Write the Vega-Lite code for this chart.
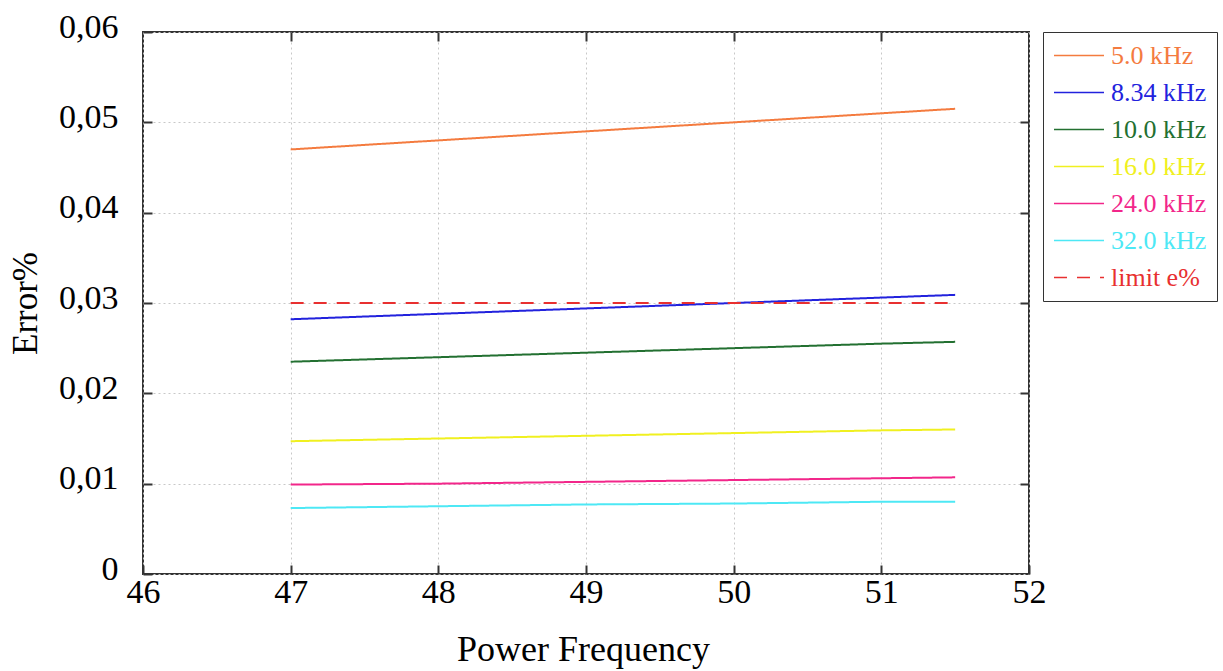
{
  "$schema": "https://vega.github.io/schema/vega-lite/v6.json",
  "width": 886,
  "height": 542,
  "autosize": {"type": "none"},
  "padding": {"left": 143, "top": 32, "right": 194, "bottom": 97},
  "background": "white",
  "config": {
    "view": {"stroke": "#333333", "strokeWidth": 2},
    "font": "Liberation Serif",
    "axis": {
      "labelFont": "Liberation Serif",
      "titleFont": "Liberation Serif",
      "labelColor": "#000000",
      "titleColor": "#000000",
      "labelFontSize": 34,
      "titleFontSize": 35,
      "titleFontWeight": "normal",
      "labelFlush": false,
      "labelOverlap": false,
      "domain": false,
      "tickColor": "#333333",
      "tickWidth": 2,
      "tickSize": -9,
      "gridColor": "#c8c8c8",
      "gridDash": [2, 3],
      "gridWidth": 1
    },
    "legend": {
      "title": null,
      "orient": "none",
      "legendX": 900,
      "legendY": 0,
      "strokeColor": "#333333",
      "padding": 10,
      "symbolSize": 625,
      "symbolStrokeWidth": 1.5,
      "symbolType": "M-1,0H3",
      "labelFont": "Liberation Serif",
      "labelFontSize": 26,
      "labelOffset": 31,
      "rowPadding": 10,
      "labelLimit": 300
    }
  },
  "data": {
    "values": [
      {"f": 47, "e": 0.0470, "series": "5.0 kHz"},
      {"f": 48, "e": 0.0480, "series": "5.0 kHz"},
      {"f": 49, "e": 0.0490, "series": "5.0 kHz"},
      {"f": 50, "e": 0.0500, "series": "5.0 kHz"},
      {"f": 51, "e": 0.0510, "series": "5.0 kHz"},
      {"f": 51.5, "e": 0.0515, "series": "5.0 kHz"},
      {"f": 47, "e": 0.0282, "series": "8.34 kHz"},
      {"f": 48, "e": 0.0288, "series": "8.34 kHz"},
      {"f": 49, "e": 0.0294, "series": "8.34 kHz"},
      {"f": 50, "e": 0.0300, "series": "8.34 kHz"},
      {"f": 51, "e": 0.0306, "series": "8.34 kHz"},
      {"f": 51.5, "e": 0.0309, "series": "8.34 kHz"},
      {"f": 47, "e": 0.0235, "series": "10.0 kHz"},
      {"f": 48, "e": 0.0240, "series": "10.0 kHz"},
      {"f": 49, "e": 0.0245, "series": "10.0 kHz"},
      {"f": 50, "e": 0.0250, "series": "10.0 kHz"},
      {"f": 51, "e": 0.0255, "series": "10.0 kHz"},
      {"f": 51.5, "e": 0.0257, "series": "10.0 kHz"},
      {"f": 47, "e": 0.0147, "series": "16.0 kHz"},
      {"f": 48, "e": 0.0150, "series": "16.0 kHz"},
      {"f": 49, "e": 0.0153, "series": "16.0 kHz"},
      {"f": 50, "e": 0.0156, "series": "16.0 kHz"},
      {"f": 51, "e": 0.0159, "series": "16.0 kHz"},
      {"f": 51.5, "e": 0.0160, "series": "16.0 kHz"},
      {"f": 47, "e": 0.0099, "series": "24.0 kHz"},
      {"f": 48, "e": 0.0100, "series": "24.0 kHz"},
      {"f": 49, "e": 0.0102, "series": "24.0 kHz"},
      {"f": 50, "e": 0.0104, "series": "24.0 kHz"},
      {"f": 51, "e": 0.0106, "series": "24.0 kHz"},
      {"f": 51.5, "e": 0.0107, "series": "24.0 kHz"},
      {"f": 47, "e": 0.0073, "series": "32.0 kHz"},
      {"f": 48, "e": 0.0075, "series": "32.0 kHz"},
      {"f": 49, "e": 0.0077, "series": "32.0 kHz"},
      {"f": 50, "e": 0.0078, "series": "32.0 kHz"},
      {"f": 51, "e": 0.0080, "series": "32.0 kHz"},
      {"f": 51.5, "e": 0.0080, "series": "32.0 kHz"},
      {"f": 47, "e": 0.0300, "series": "limit e%"},
      {"f": 51.5, "e": 0.0300, "series": "limit e%"}
    ]
  },
  "layer": [
    {
      "mark": {"type": "line", "strokeWidth": 2},
      "encoding": {
        "x": {
          "field": "f", "type": "quantitative",
          "scale": {"domain": [46, 52], "nice": false, "zero": false},
          "axis": {
            "orient": "bottom",
            "values": [46, 47, 48, 49, 50, 51, 52],
            "title": "Power Frequency",
            "labelPadding": 10,
            "titleBaseline": "alphabetic",
            "titleFontSize": 36,
            "titleY": 86,
            "titleX": 440
          }
        },
        "y": {
          "field": "e", "type": "quantitative",
          "scale": {"domain": [0, 0.06], "nice": false, "zero": true},
          "axis": {
            "orient": "left",
            "values": [0, 0.01, 0.02, 0.03, 0.04, 0.05, 0.06],
            "labelExpr": "replace(toString(datum.value), '.', ',')",
            "title": "Error%",
            "labelPadding": 34,
            "labelOffset": -5,
            "titleX": -118,
            "titleY": 271,
            "titleAlign": "center",
            "titleBaseline": "middle",
            "titleAngle": -90
          }
        },
        "color": {
          "field": "series", "type": "nominal",
          "scale": {
            "domain": ["5.0 kHz", "8.34 kHz", "10.0 kHz", "16.0 kHz", "24.0 kHz", "32.0 kHz", "limit e%"],
            "range": ["#F47B3F", "#2222DD", "#237031", "#F0F020", "#F2268A", "#4DE8F5", "#E83030"]
          },
          "legend": {
            "encode": {
              "labels": {"update": {"fill": {"signal": "scale('color', datum.value)"}}}
            }
          }
        },
        "strokeDash": {
          "field": "series", "type": "nominal",
          "scale": {
            "domain": ["5.0 kHz", "8.34 kHz", "10.0 kHz", "16.0 kHz", "24.0 kHz", "32.0 kHz", "limit e%"],
            "range": [[1, 0], [1, 0], [1, 0], [1, 0], [1, 0], [1, 0], [13, 10]]
          },
          "legend": {
            "encode": {
              "labels": {"update": {"fill": {"signal": "scale('color', datum.value)"}}}
            }
          }
        }
      }
    },
    {
      "mark": {"type": "point", "opacity": 0},
      "encoding": {
        "x": {
          "field": "f", "type": "quantitative",
          "axis": {"orient": "top", "values": [47, 48, 49, 50, 51], "labels": false, "grid": false, "title": null}
        },
        "y": {
          "field": "e", "type": "quantitative",
          "axis": {"orient": "right", "values": [0.01, 0.02, 0.03, 0.04, 0.05], "labels": false, "grid": false, "title": null}
        }
      }
    }
  ],
  "resolve": {"axis": {"x": "independent", "y": "independent"}}
}
